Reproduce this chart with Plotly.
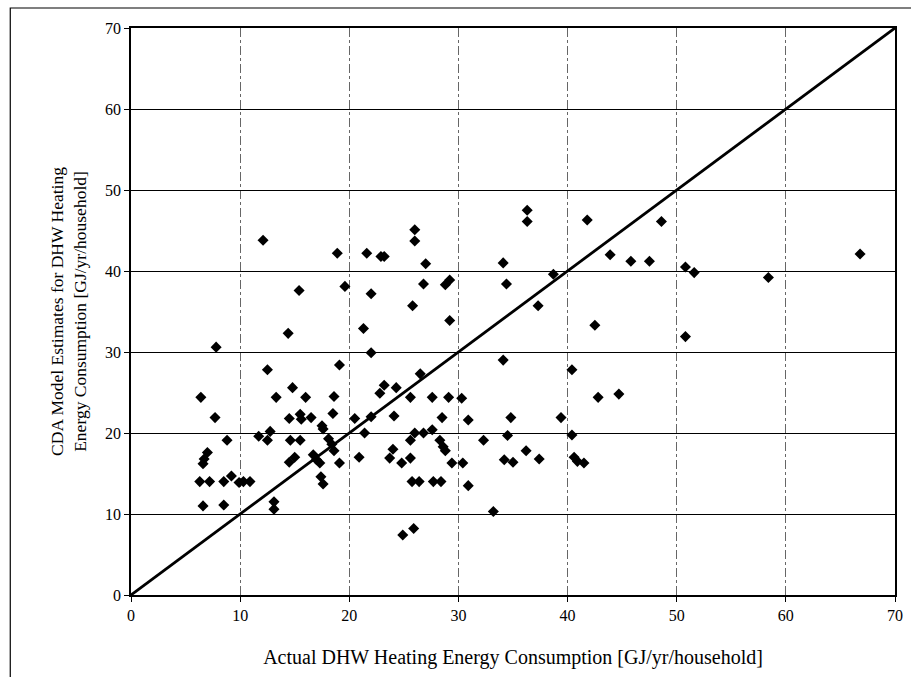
import plotly.graph_objects as go

# Actual vs. CDA-model DHW heating energy, GJ/yr/household
actual_gj = [
    6.4, 7.8, 7.7, 8.8, 7.0, 6.7, 6.6, 6.3, 7.2, 8.5, 9.2, 9.9, 10.3, 10.9, 6.6, 8.5,
    12.1, 15.4, 14.4, 12.5, 14.8, 13.3, 16.0, 18.6, 14.5, 15.5, 15.6, 16.5, 18.5,
    17.6, 17.5, 11.7, 12.75, 12.5, 14.6, 15.5, 18.1, 18.4, 18.6, 16.7, 15.0, 14.5,
    17.0, 17.3, 19.1, 17.4, 17.6, 13.1, 13.1, 19.1, 18.9, 19.6,
    20.5, 22.0, 21.4, 20.9, 22.8, 23.2, 24.3, 26.5, 24.1, 25.6, 24.0, 23.7, 24.8,
    25.6, 25.6, 26.0, 26.8, 27.6, 27.6, 28.5, 29.1, 28.3, 28.6, 28.8, 29.4, 25.75,
    26.4, 27.7, 28.4, 24.9, 25.9, 21.6, 22.9, 23.2, 26.0, 26.0, 27.0, 22.0, 26.8,
    28.8, 29.2, 25.8, 21.3, 29.2, 22.0,
    30.4, 30.3, 30.9, 30.9, 33.2, 32.3, 34.5, 34.8, 34.2, 35.0, 34.1, 34.1, 34.4,
    36.3, 36.3, 41.8, 48.6, 43.9, 45.8, 47.5, 50.8, 51.6, 38.7, 37.3, 42.5, 50.8,
    40.4, 42.8, 44.7, 39.4, 40.4, 36.2, 37.4, 40.6, 40.9, 41.5, 58.4, 66.8,
]
cda_estimate_gj = [
    24.4, 30.6, 21.9, 19.1, 17.6, 16.8, 16.2, 14.0, 14.0, 14.0, 14.7, 13.9, 14.0, 14.0, 11.0, 11.1,
    43.8, 37.6, 32.3, 27.8, 25.6, 24.4, 24.4, 24.5, 21.8, 22.3, 21.7, 21.9, 22.4,
    20.5, 20.9, 19.6, 20.2, 19.1, 19.1, 19.1, 19.3, 18.6, 17.8, 17.3, 17.0, 16.4,
    16.7, 16.3, 16.3, 14.6, 13.7, 11.5, 10.6, 28.4, 42.2, 38.1,
    21.8, 22.0, 20.0, 17.0, 24.9, 25.9, 25.6, 27.3, 22.1, 24.4, 18.0, 16.9, 16.3,
    16.9, 19.1, 20.0, 20.0, 20.4, 24.4, 21.9, 24.4, 19.1, 18.3, 17.8, 16.3, 14.0,
    14.0, 14.0, 14.0, 7.4, 8.2, 42.2, 41.8, 41.8, 45.1, 43.7, 40.9, 37.2, 38.4,
    38.3, 38.9, 35.7, 32.9, 33.9, 29.9,
    16.3, 24.3, 21.6, 13.5, 10.3, 19.1, 19.7, 21.9, 16.7, 16.4, 29.0, 41.0, 38.4,
    47.5, 46.1, 46.3, 46.1, 42.0, 41.2, 41.2, 40.5, 39.8, 39.6, 35.7, 33.3, 31.9,
    27.8, 24.4, 24.8, 21.9, 19.75, 17.8, 16.8, 17.0, 16.5, 16.3, 39.2, 42.1,
]

# 1:1 reference line
line_x = [0, 70]
line_y = [0, 70]

tick_vals = [0, 10, 20, 30, 40, 50, 60, 70]

FONT = "Times New Roman, Liberation Serif, serif"

fig = go.Figure()
fig.add_trace(go.Scatter(
    x=line_x, y=line_y, mode="lines",
    line=dict(color="black", width=2.8),
    hoverinfo="skip", showlegend=False,
))
fig.add_trace(go.Scatter(
    x=actual_gj, y=cda_estimate_gj, mode="markers",
    marker=dict(symbol="diamond", size=8.5, color="black"),
    showlegend=False,
))

W, H = 911, 677
L, R, T, B = 131, 8, 28, 82
pw, ph = W - L - R, H - T - B

def px_x(p):
    return (p - L) / pw

def px_y(p):
    return (H - B - p) / ph

# outer border around the whole chart
fig.add_shape(type="rect", xref="paper", yref="paper",
              x0=px_x(9), x1=px_x(925), y0=px_y(690), y1=px_y(8),
              line=dict(color="black", width=1.2), layer="below")

fig.update_layout(
    width=W, height=H,
    margin=dict(l=L, r=R, t=T, b=B),
    paper_bgcolor="white", plot_bgcolor="white",
    font=dict(family=FONT, color="black", size=16),
    xaxis=dict(
        range=[0, 70], tickvals=tick_vals, ticks="outside", ticklen=5,
        tickcolor="black", showgrid=True, gridcolor="#666", griddash="dashdot",
        gridwidth=1, showline=True, linecolor="black", linewidth=1.5, mirror=True,
        zeroline=False, tickfont=dict(size=16),
        title=dict(text="Actual DHW Heating Energy Consumption [GJ/yr/household]",
                   font=dict(size=20), standoff=27),
    ),
    yaxis=dict(
        range=[0, 70], tickvals=tick_vals, ticks="outside", ticklen=5,
        tickcolor="black", showgrid=True, gridcolor="black", gridwidth=1,
        showline=True, linecolor="black", linewidth=1.5, mirror=True,
        zeroline=False, tickfont=dict(size=16),
        title=dict(text="CDA Model Estimates for DHW Heating<br>Energy Consumption [GJ/yr/household]",
                   font=dict(size=17.5), standoff=14),
    ),
)

fig.write_html("out.html")
